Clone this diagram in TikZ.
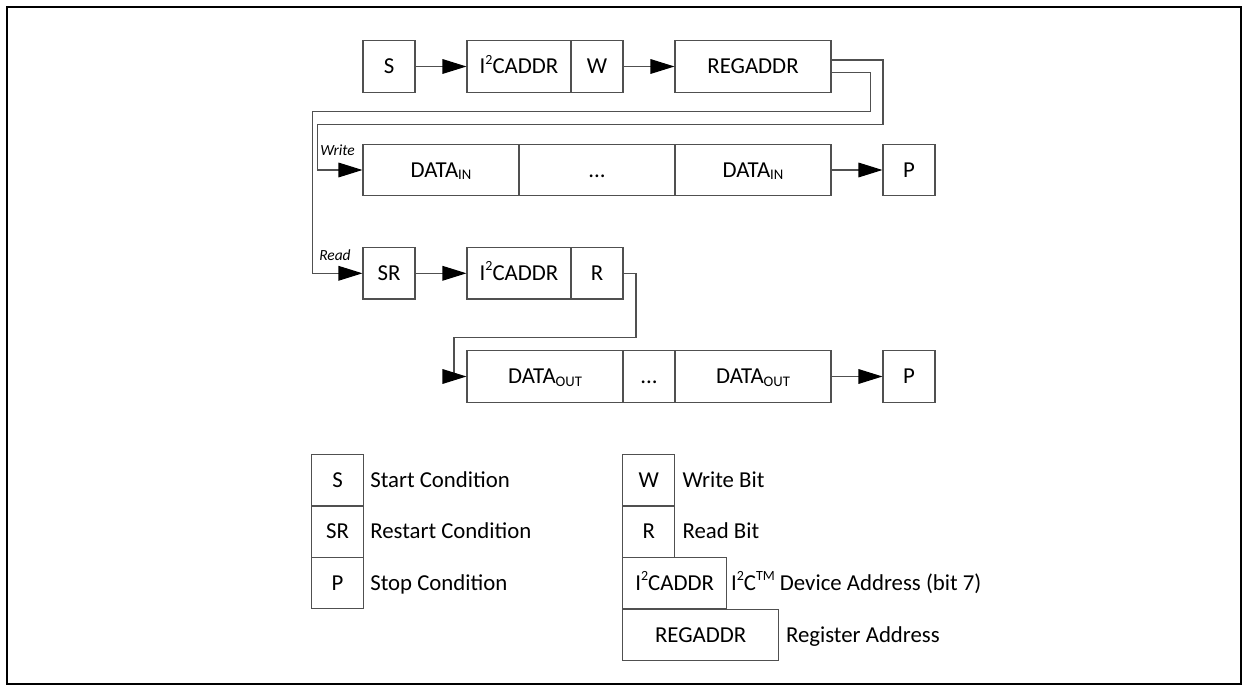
\documentclass[tikz,border=0pt]{standalone}
\usepackage{fontspec}
\setmainfont{Carlito}
\usetikzlibrary{arrows.meta,calc}
\definecolor{linegray}{RGB}{80,80,80}
\newcommand\supt[1]{\raisebox{0.42em}{\fontsize{10.5}{10}\selectfont #1}}
\newcommand\subt[1]{\raisebox{-0.12em}{\fontsize{11}{10}\selectfont #1}}
\begin{document}
\begin{tikzpicture}[x=0.75pt,y=-0.75pt,
  cell/.style={draw=linegray, line width=0.8pt, rectangle, inner sep=0pt,
    minimum height=38.6pt, text height=10.8pt, text depth=0pt,
    font=\fontsize{17.1}{20}\selectfont},
  cellA/.style={cell, minimum width=39pt},
  cellB/.style={cell, minimum width=78pt},
  cellC/.style={cell, minimum width=117pt},
  desc/.style={inner sep=0pt, anchor=west, text height=10.8pt, text depth=0pt,
    font=\fontsize{17.1}{20}\selectfont},
  lbl/.style={inner sep=0pt, anchor=base west, font=\fontsize{11.6}{13}\selectfont\itshape},
  wire/.style={draw=linegray, line width=0.8pt},
  conn/.style={wire, -{Triangle[length=18pt,width=11pt,color=black]}}]
\useasboundingbox (0,0) rectangle (1249,691);
\draw[line width=1pt] (7,7) rectangle (1241,684);
% row 1
\node[cellA] (s) at (389,66.5) {S};
\node[cellB] (i2c) at (519,66.5) {I\supt{2}CADDR};
\node[cellA] (w) at (597,66.5) {W};
\node[cellC] (reg) at (753,66.5) {REGADDR};
% row 2
\node[cellC] (din1) at (441,170) {DATA\subt{IN}};
\node[cellC] (dind) at (597,170) {...};
\node[cellC] (din2) at (753,170) {DATA\subt{IN}};
\node[cellA] (pw) at (909,170) {P};
% row 3
\node[cellA] (sr) at (389,273.3) {SR};
\node[cellB] (i2cr) at (519,273.3) {I\supt{2}CADDR};
\node[cellA] (r) at (597,273.3) {R};
% row 4
\node[cellC] (dout1) at (545,376.5) {DATA\subt{OUT}};
\node[cellA] (doutd) at (649,376.5) {...};
\node[cellC] (dout2) at (753,376.5) {DATA\subt{OUT}};
\node[cellA] (pr) at (909,376.5) {P};
% labels
\node[lbl] (wlabel) at (320,156) {Write};
\node[lbl] (rlabel) at (319,260.7) {Read};
% connectors
\draw[conn] (s.east) -- (i2c.west);
\draw[conn] (w.east) -- (reg.west);
\draw[conn] ($(reg.east)+(0,-6.5)$) -| (883,124.7) -| (317.3,170) -- (din1.west);
\draw[conn] ($(reg.east)+(0,6.2)$) -| (870.5,111.3) -| (312.7,273.3) -- (sr.west);
\draw[conn] (din2.east) -- (pw.west);
\draw[conn] (sr.east) -- (i2cr.west);
\draw[conn] (r.east) -| (636,337.3) -| (454,376.5) -- (dout1.west);
\draw[conn] (dout2.east) -- (pr.west);
% legend
\node[cellA] (ls) at (337.5,480) {S};
\node[cellA] (lsr) at (337.5,531.7) {SR};
\node[cellA] (lp) at (337.5,583.2) {P};
\node[desc] (lsd) at ($(ls.east)+(6,0)$) {Start Condition};
\node[desc] (lsrd) at ($(lsr.east)+(6,0)$) {Restart Condition};
\node[desc] (lpd) at ($(lp.east)+(6,0)$) {Stop Condition};
\node[cellA] (lw) at (648.7,480) {W};
\node[cellA] (lr) at (648.7,531.7) {R};
\node[cellB] (li2c) at (674.7,583.2) {I\supt{2}CADDR};
\node[cellC] (lreg) at (700.7,634.8) {REGADDR};
\node[desc] (lwd) at ($(lw.east)+(7,0)$) {Write Bit};
\node[desc] (lrd) at ($(lr.east)+(7,0)$) {Read Bit};
\node[desc] (li2cd) at ($(li2c.east)+(3.5,0)$) {I\supt{2}C\supt{TM} Device Address (bit 7)};
\node[desc] (lregd) at ($(lreg.east)+(6.5,0)$) {Register Address};
\end{tikzpicture}
\end{document}
